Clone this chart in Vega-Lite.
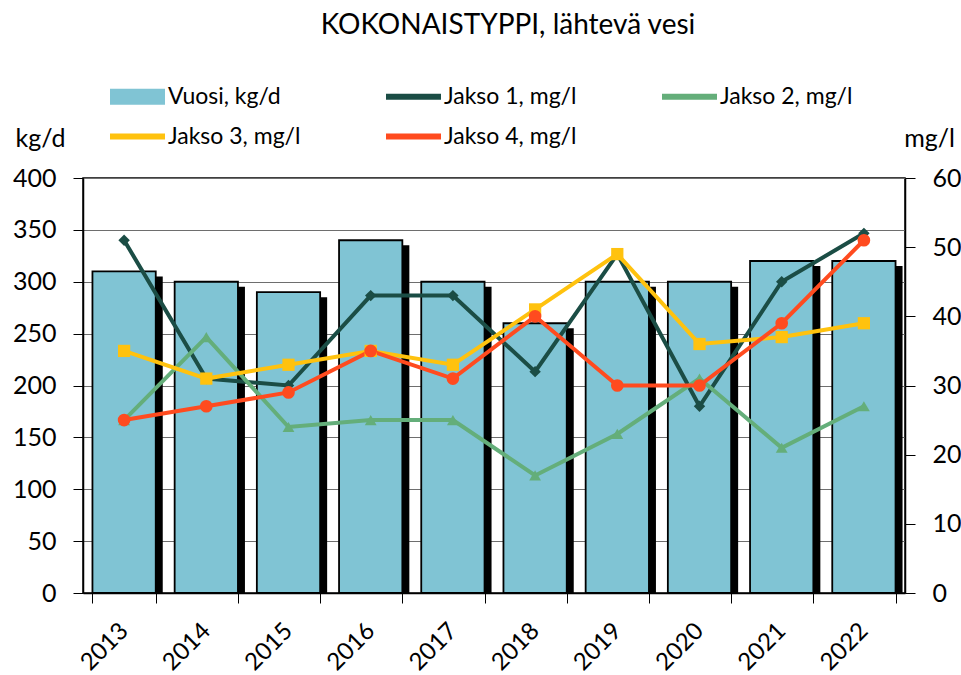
{
  "$schema": "https://vega.github.io/schema/vega-lite/v6.json",
  "width": 822,
  "height": 415,
  "autosize": {"type": "none"},
  "padding": {"left": 83, "top": 178, "right": 56, "bottom": 82},
  "background": "white",
  "config": {
    "font": "Lato",
    "view": {"stroke": "black", "strokeWidth": 1.5},
    "axis": {"labelColor": "black", "domainColor": "black", "tickColor": "black", "titleColor": "black", "labelFont": "Lato", "titleFont": "Lato"}
  },
  "title": {
    "text": "KOKONAISTYPPI, lähtevä vesi",
    "fontSize": 28,
    "fontWeight": "normal",
    "color": "black",
    "anchor": "middle",
    "dx": 14,
    "dy": -25,
    "frame": "group"
  },
  "datasets": {
    "bars": [
      {"year": "2013", "kgd": 310, "series": "Vuosi, kg/d"},
      {"year": "2014", "kgd": 300, "series": "Vuosi, kg/d"},
      {"year": "2015", "kgd": 290, "series": "Vuosi, kg/d"},
      {"year": "2016", "kgd": 340, "series": "Vuosi, kg/d"},
      {"year": "2017", "kgd": 300, "series": "Vuosi, kg/d"},
      {"year": "2018", "kgd": 260, "series": "Vuosi, kg/d"},
      {"year": "2019", "kgd": 300, "series": "Vuosi, kg/d"},
      {"year": "2020", "kgd": 300, "series": "Vuosi, kg/d"},
      {"year": "2021", "kgd": 320, "series": "Vuosi, kg/d"},
      {"year": "2022", "kgd": 320, "series": "Vuosi, kg/d"}
    ],
    "lines": [
      {"year": "2013", "series": "Jakso 1, mg/l", "mgl": 51},
      {"year": "2014", "series": "Jakso 1, mg/l", "mgl": 31},
      {"year": "2015", "series": "Jakso 1, mg/l", "mgl": 30},
      {"year": "2016", "series": "Jakso 1, mg/l", "mgl": 43},
      {"year": "2017", "series": "Jakso 1, mg/l", "mgl": 43},
      {"year": "2018", "series": "Jakso 1, mg/l", "mgl": 32},
      {"year": "2019", "series": "Jakso 1, mg/l", "mgl": 49},
      {"year": "2020", "series": "Jakso 1, mg/l", "mgl": 27},
      {"year": "2021", "series": "Jakso 1, mg/l", "mgl": 45},
      {"year": "2022", "series": "Jakso 1, mg/l", "mgl": 52},
      {"year": "2013", "series": "Jakso 2, mg/l", "mgl": 25},
      {"year": "2014", "series": "Jakso 2, mg/l", "mgl": 37},
      {"year": "2015", "series": "Jakso 2, mg/l", "mgl": 24},
      {"year": "2016", "series": "Jakso 2, mg/l", "mgl": 25},
      {"year": "2017", "series": "Jakso 2, mg/l", "mgl": 25},
      {"year": "2018", "series": "Jakso 2, mg/l", "mgl": 17},
      {"year": "2019", "series": "Jakso 2, mg/l", "mgl": 23},
      {"year": "2020", "series": "Jakso 2, mg/l", "mgl": 31},
      {"year": "2021", "series": "Jakso 2, mg/l", "mgl": 21},
      {"year": "2022", "series": "Jakso 2, mg/l", "mgl": 27},
      {"year": "2013", "series": "Jakso 3, mg/l", "mgl": 35},
      {"year": "2014", "series": "Jakso 3, mg/l", "mgl": 31},
      {"year": "2015", "series": "Jakso 3, mg/l", "mgl": 33},
      {"year": "2016", "series": "Jakso 3, mg/l", "mgl": 35},
      {"year": "2017", "series": "Jakso 3, mg/l", "mgl": 33},
      {"year": "2018", "series": "Jakso 3, mg/l", "mgl": 41},
      {"year": "2019", "series": "Jakso 3, mg/l", "mgl": 49},
      {"year": "2020", "series": "Jakso 3, mg/l", "mgl": 36},
      {"year": "2021", "series": "Jakso 3, mg/l", "mgl": 37},
      {"year": "2022", "series": "Jakso 3, mg/l", "mgl": 39},
      {"year": "2013", "series": "Jakso 4, mg/l", "mgl": 25},
      {"year": "2014", "series": "Jakso 4, mg/l", "mgl": 27},
      {"year": "2015", "series": "Jakso 4, mg/l", "mgl": 29},
      {"year": "2016", "series": "Jakso 4, mg/l", "mgl": 35},
      {"year": "2017", "series": "Jakso 4, mg/l", "mgl": 31},
      {"year": "2018", "series": "Jakso 4, mg/l", "mgl": 40},
      {"year": "2019", "series": "Jakso 4, mg/l", "mgl": 30},
      {"year": "2020", "series": "Jakso 4, mg/l", "mgl": 30},
      {"year": "2021", "series": "Jakso 4, mg/l", "mgl": 39},
      {"year": "2022", "series": "Jakso 4, mg/l", "mgl": 51}
    ]
  },
  "layer": [
    {
      "data": {"name": "bars"},
      "encoding": {
        "x": {
          "field": "year",
          "type": "ordinal",
          "scale": {"paddingInner": 0.23, "paddingOuter": 0.115},
          "axis": {
            "title": null,
            "labelAngle": -45,
            "labelAlign": "right",
            "labelBaseline": "middle",
            "labelFontSize": 24,
            "tickBand": "extent",
            "tickSize": 10,
            "labelPadding": 24,
            "domainWidth": 1.5
          }
        },
        "y": {
          "field": "kgd",
          "type": "quantitative",
          "scale": {"domain": [0, 400], "nice": false},
          "axis": {
            "title": "kg/d",
            "titleAngle": 0,
            "titleX": -43,
            "titleY": -40,
            "titleAlign": "center",
            "titleBaseline": "middle",
            "titleFontSize": 25,
            "titleFontWeight": "normal",
            "values": [0, 50, 100, 150, 200, 250, 300, 350, 400],
            "grid": true,
            "gridColor": "#6e6e6e",
            "gridWidth": 1.2,
            "tickSize": 10,
            "labelPadding": 17,
            "labelFontSize": 25,
            "domainWidth": 1.5
          }
        }
      },
      "layer": [
        {
          "mark": {"type": "bar", "color": "black", "xOffset": 7, "yOffset": 5, "clip": true},
          "encoding": {
            "opacity": {
              "field": "series",
              "type": "nominal",
              "scale": {
                "domain": ["Vuosi, kg/d", "Jakso 1, mg/l", "Jakso 2, mg/l", "Jakso 3, mg/l", "Jakso 4, mg/l"],
                "range": [1, 1, 1, 1, 1]
              },
              "legend": {
                "orient": "none",
                "direction": "horizontal",
                "legendX": 27,
                "legendY": -109,
                "columns": 3,
                "columnPadding": 82,
                "rowPadding": -2,
                "gridAlign": "all",
                "title": null,
                "labelFontSize": 23,
                "labelColor": "black",
                "labelFont": "Lato",
                "symbolSize": 2809,
                "symbolType": {"expr": "datum.value === 'Vuosi, kg/d' ? 'M-1,-0.26L1,-0.26L1,0.26L-1,0.26Z' : 'M-1,-0.075L1,-0.075L1,0.075L-1,0.075Z'"},
                "symbolStrokeColor": {"expr": "datum.value === 'Vuosi, kg/d' ? 'black' : 'transparent'"},
                "symbolStrokeWidth": 2,
                "labelOffset": 3,
                "encode": {
                  "symbols": {
                    "fill": {"value": {"expr": "datum.value === 'Vuosi, kg/d' ? '#80C4D4' : datum.value === 'Jakso 1, mg/l' ? '#1B4D45' : datum.value === 'Jakso 2, mg/l' ? '#64AE7A' : datum.value === 'Jakso 3, mg/l' ? '#FFC20E' : '#FF4B1F'"}}
                  }
                }
              }
            }
          }
        },
        {
          "mark": {"type": "bar", "stroke": "black", "strokeWidth": 1.8},
          "encoding": {
            "color": {
              "field": "series",
              "type": "nominal",
              "scale": {
                "domain": ["Vuosi, kg/d", "Jakso 1, mg/l", "Jakso 2, mg/l", "Jakso 3, mg/l", "Jakso 4, mg/l"],
                "range": ["#80C4D4", "#1B4D45", "#64AE7A", "#FFC20E", "#FF4B1F"]
              },
              "legend": null
            }
          }
        }
      ]
    },
    {
      "data": {"name": "lines"},
      "encoding": {
        "x": {"field": "year", "type": "ordinal"},
        "y": {
          "field": "mgl",
          "type": "quantitative",
          "scale": {"domain": [0, 60], "nice": false},
          "axis": {
            "orient": "right",
            "title": "mg/l",
            "titleAngle": 0,
            "titleX": 24,
            "titleY": -40,
            "titleAlign": "center",
            "titleBaseline": "middle",
            "titleFontSize": 25,
            "titleFontWeight": "normal",
            "values": [0, 10, 20, 30, 40, 50, 60],
            "grid": false,
            "tickSize": 10,
            "labelPadding": 17,
            "labelFontSize": 25,
            "domainWidth": 1.5
          }
        },
        "color": {"field": "series", "type": "nominal", "legend": null}
      },
      "layer": [
        {"mark": {"type": "line", "strokeWidth": 4}},
        {
          "mark": {"type": "point", "filled": true, "opacity": 1},
          "encoding": {
            "shape": {
              "field": "series",
              "type": "nominal",
              "scale": {
                "domain": ["Jakso 1, mg/l", "Jakso 2, mg/l", "Jakso 3, mg/l", "Jakso 4, mg/l"],
                "range": ["diamond", "triangle-up", "square", "circle"]
              },
              "legend": null
            },
            "size": {
              "field": "series",
              "type": "nominal",
              "scale": {
                "domain": ["Jakso 1, mg/l", "Jakso 2, mg/l", "Jakso 3, mg/l", "Jakso 4, mg/l"],
                "range": [130, 160, 256, 90]
              },
              "legend": null
            }
          }
        }
      ]
    }
  ],
  "resolve": {"scale": {"y": "independent"}}
}
